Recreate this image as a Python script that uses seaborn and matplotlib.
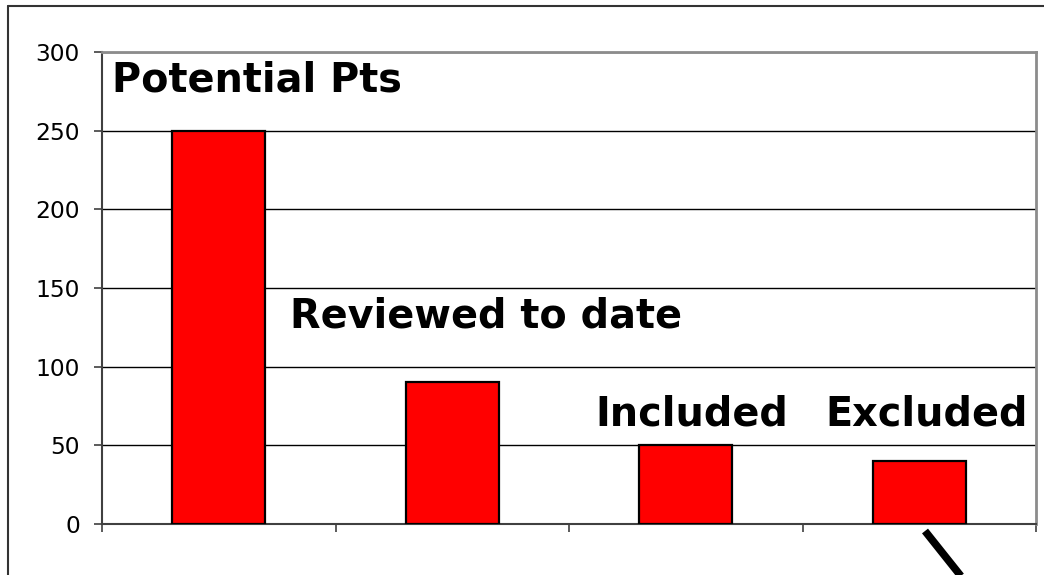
import matplotlib
matplotlib.use("Agg")
import matplotlib.pyplot as plt
from matplotlib.lines import Line2D
import seaborn as sns
import pandas as pd

# Patient screening counts
stages = ["Potential Pts", "Reviewed to date", "Included", "Excluded"]
counts = [250, 90, 50, 40]

# Label anchors (category-axis x, count-axis baseline y)
label_x = [-0.457, 0.305, 1.611, 2.596]
label_y = [275, 125, 62.5, 62.5]

y_ticks = [0, 50, 100, 150, 200, 250, 300]

sns.set_theme(style="white")
plt.rcParams["font.family"] = ["DejaVu Sans"]

df = pd.DataFrame({"stage": stages, "count": counts})

fig = plt.figure(figsize=(10.44, 5.75), dpi=100)
ax = fig.add_axes([102 / 1044, 51 / 575, 934 / 1044, 472 / 575])

ax.set_ylim(0, 300)
ax.set_yticks(y_ticks)
ax.grid(axis="y", color="black", linewidth=1.0, zorder=0)
ax.set_axisbelow(True)

sns.barplot(data=df, x="stage", y="count", color="#ff0000", saturation=1,
            edgecolor="black", linewidth=1.6, width=0.4, ax=ax, zorder=3)

ax.set_xlim(-0.5, 3.5)
ax.set_xlabel("")
ax.set_ylabel("")
ax.set_xticks([])
ax.set_xticks([-0.5, 0.5, 1.5, 2.5, 3.5], minor=True)
ax.tick_params(axis="x", which="minor", direction="out", length=6,
               width=1.2, color="#404040", bottom=True)
ax.tick_params(axis="y", direction="out", length=6, width=1.2,
               color="#404040", left=True, labelsize=16.8, pad=10,
               labelcolor="black")

for side in ["top", "right"]:
    ax.spines[side].set_color("#8c8c8c")
    ax.spines[side].set_linewidth(2)
for side in ["left", "bottom"]:
    ax.spines[side].set_color("#404040")
    ax.spines[side].set_linewidth(1.5)

for name, x, y in zip(stages, label_x, label_y):
    ax.text(x, y, name, fontsize=28.6, fontweight="bold", color="black",
            ha="left", va="baseline", zorder=5)

# Outer frame (top and left edges)
fig.add_artist(Line2D([8 / 1044, 8 / 1044], [0, 1 - 6 / 575],
                      transform=fig.transFigure, color="#333333", linewidth=1.5))
fig.add_artist(Line2D([8 / 1044, 1], [1 - 6 / 575, 1 - 6 / 575],
                      transform=fig.transFigure, color="#333333", linewidth=1.5))

# Pointer stroke below the last bar
fig.add_artist(Line2D([925 / 1044, 972 / 1044], [1 - 531 / 575, 1 - 590 / 575],
                      transform=fig.transFigure, color="black", linewidth=5.5,
                      solid_capstyle="butt", clip_on=False))

fig.savefig("out.png", dpi=100)
